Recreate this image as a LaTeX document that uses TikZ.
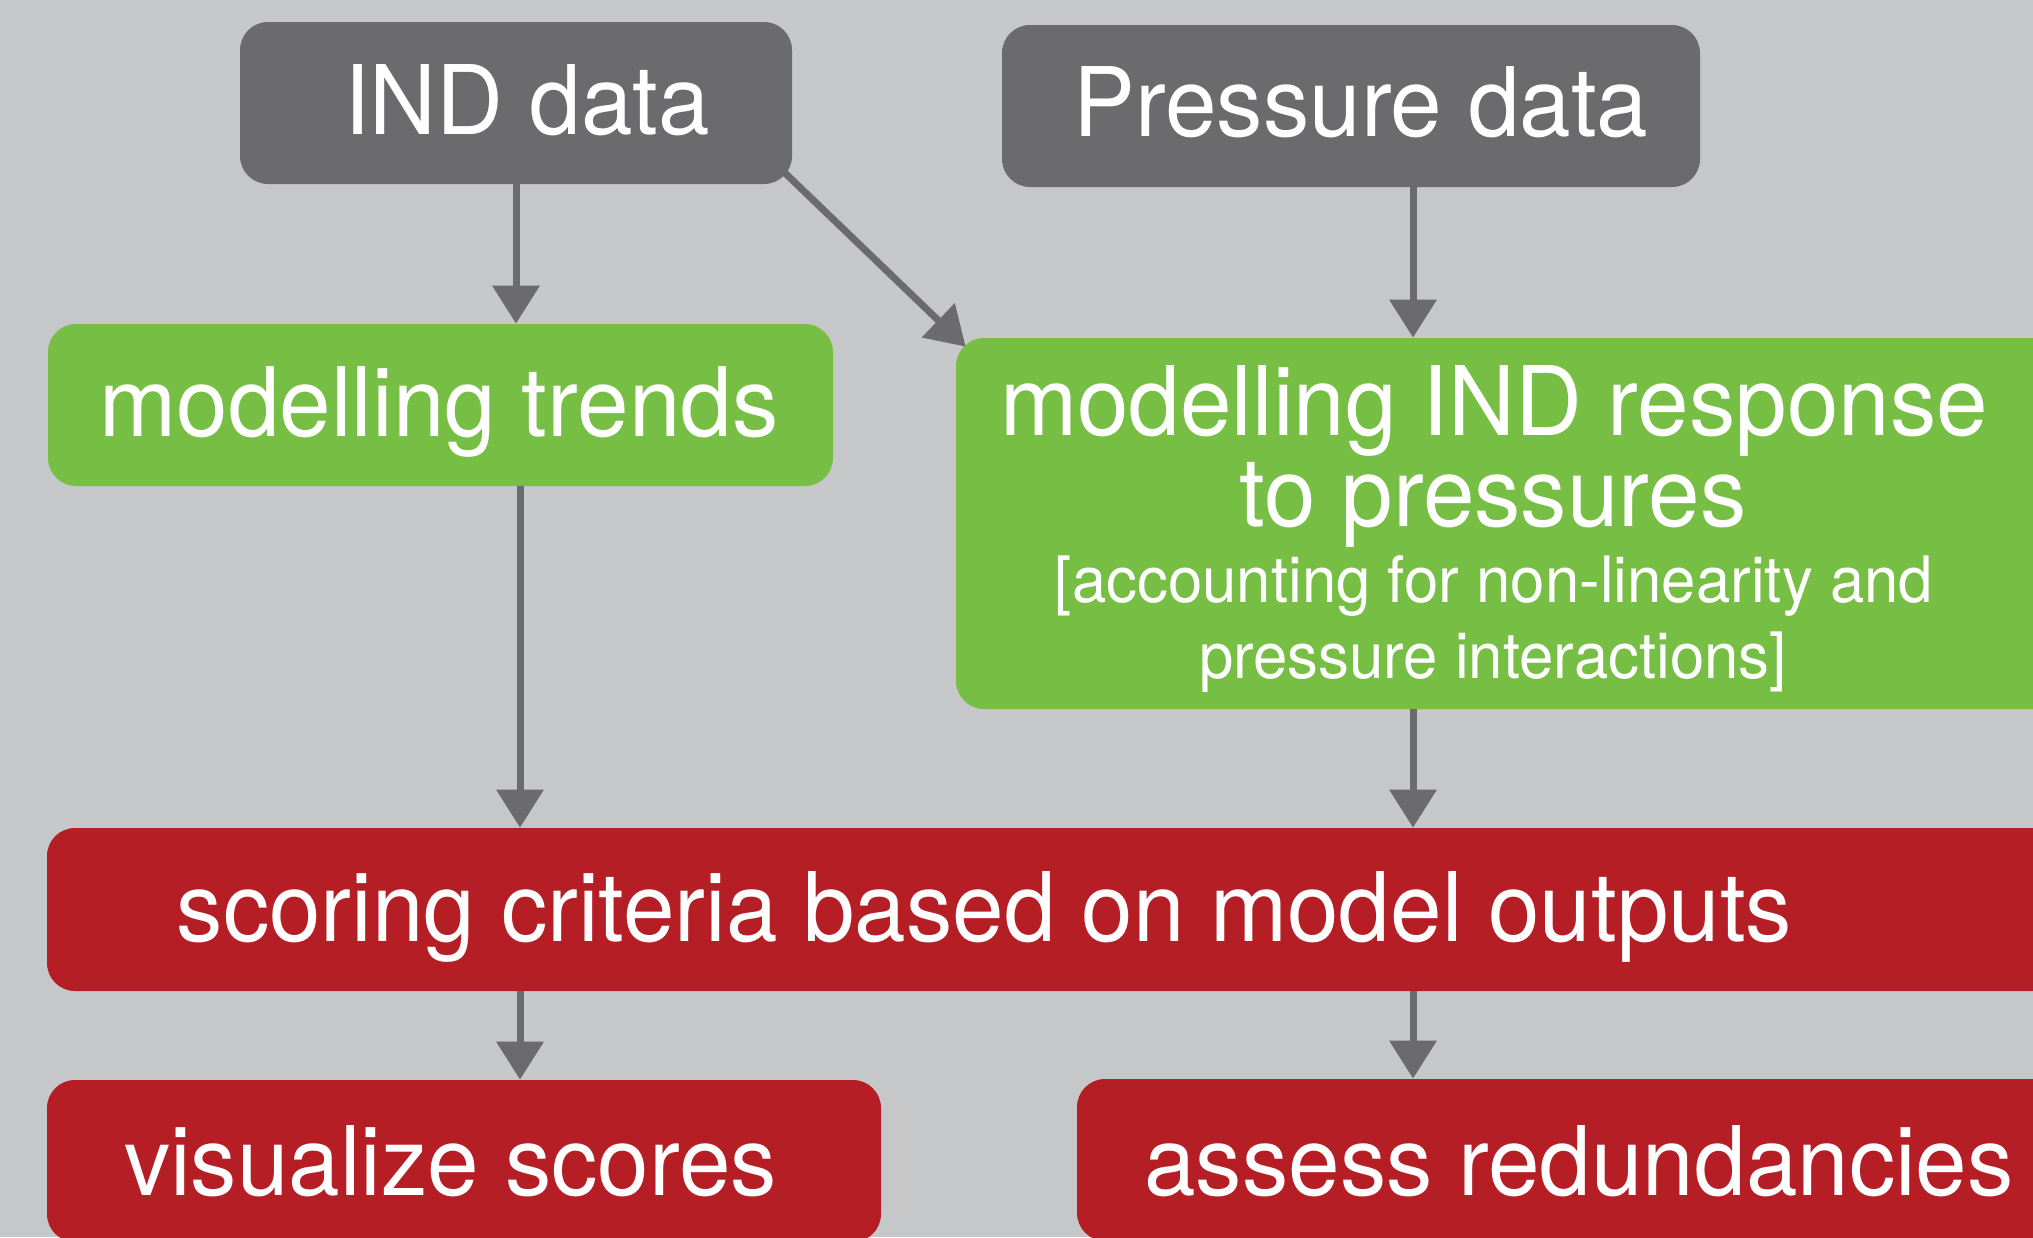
\documentclass[tikz,border=0pt]{standalone}
\usepackage{fontspec}
\usetikzlibrary{arrows.meta,calc}
\newfontfamily\hv[FakeStretch=0.965]{TeX Gyre Heros}
\definecolor{bggray}{HTML}{C6C7C9}
\definecolor{datagray}{HTML}{6B6B6D}
\definecolor{modelgreen}{HTML}{76BF44}
\definecolor{scorered}{HTML}{B61E25}
\begin{document}
\begin{tikzpicture}[x=0.5pt,y=-0.5pt,
  box/.style={rectangle,rounded corners=14pt,inner sep=0pt,draw=none},
  databox/.style={box,fill=datagray},
  modelbox/.style={box,fill=modelgreen},
  scorebox/.style={box,fill=scorered},
  bigtext/.style={anchor=base,inner sep=0pt,text=white,font=\hv\fontsize{48pt}{48pt}\selectfont},
  smalltext/.style={anchor=base,inner sep=0pt,text=white,font=\hv\fontsize{32pt}{32pt}\selectfont},
  flow/.style={draw=datagray,line width=3.5pt,-{Triangle[length=19pt,width=23pt]}}]
% canvas
\fill[bggray] (0,0) rectangle (2033,1237);
\useasboundingbox (0,0) rectangle (2033,1237);
\clip (0,0) rectangle (2033,1237);

% boxes
\node[databox,minimum width=276pt,minimum height=81pt] (ind) at (516,103) {};
\node[databox,minimum width=349pt,minimum height=81pt] (pressure) at (1351,106) {};
\node[modelbox,minimum width=392.5pt,minimum height=81pt] (trends) at (440.5,405) {};
\node[modelbox,minimum width=577pt,minimum height=185.5pt] (response) at (1533,523.5) {};
\node[scorebox,minimum width=1031.5pt,minimum height=81.5pt] (scoring) at (1078.5,909.5) {};
\node[scorebox,minimum width=417pt,minimum height=81pt] (visualize) at (464,1161) {};
\node[scorebox,minimum width=516.5pt,minimum height=81pt] (assess) at (1593.5,1160) {};

% labels
\node[bigtext] (tind) at (527,134) {IND data};
\node[bigtext] (tpressure) at (1361,136) {Pressure data};
\node[bigtext] (ttrends) at (439,436) {modelling trends};
\node[bigtext] (tresp1) at (1494,435) {modelling IND response};
\node[bigtext] (tresp2) at (1493,526) {to pressures};
\node[smalltext] (tresp3) at (1494,602) {[accounting for non-linearity and};
\node[smalltext] (tresp4) at (1493,678) {pressure interactions]};
\node[bigtext] (tscoring) at (984.5,941) {scoring criteria based on model outputs};
\node[bigtext] (tvisualize) at (450.5,1195) {visualize scores};
\node[bigtext] (tassess) at (1579,1195) {assess redundancies};

% connector columns
\coordinate (colL) at (520,0);
\coordinate (colR) at (1413,0);

% connectors
\draw[flow] (ind.south) -- (ind.south |- trends.north);
\draw[flow] ($(ind.south east)+(-8,-12)$) -- ($(response.north west)+(10,9)$);
\draw[flow] (colR |- pressure.south) -- (colR |- response.north);
\draw[flow] (colL |- trends.south) -- (colL |- scoring.north);
\draw[flow] (colR |- response.south) -- (colR |- scoring.north);
\draw[flow] (colL |- scoring.south) -- (colL |- visualize.north);
\draw[flow] (colR |- scoring.south) -- (colR |- assess.north);
\end{tikzpicture}
\end{document}
